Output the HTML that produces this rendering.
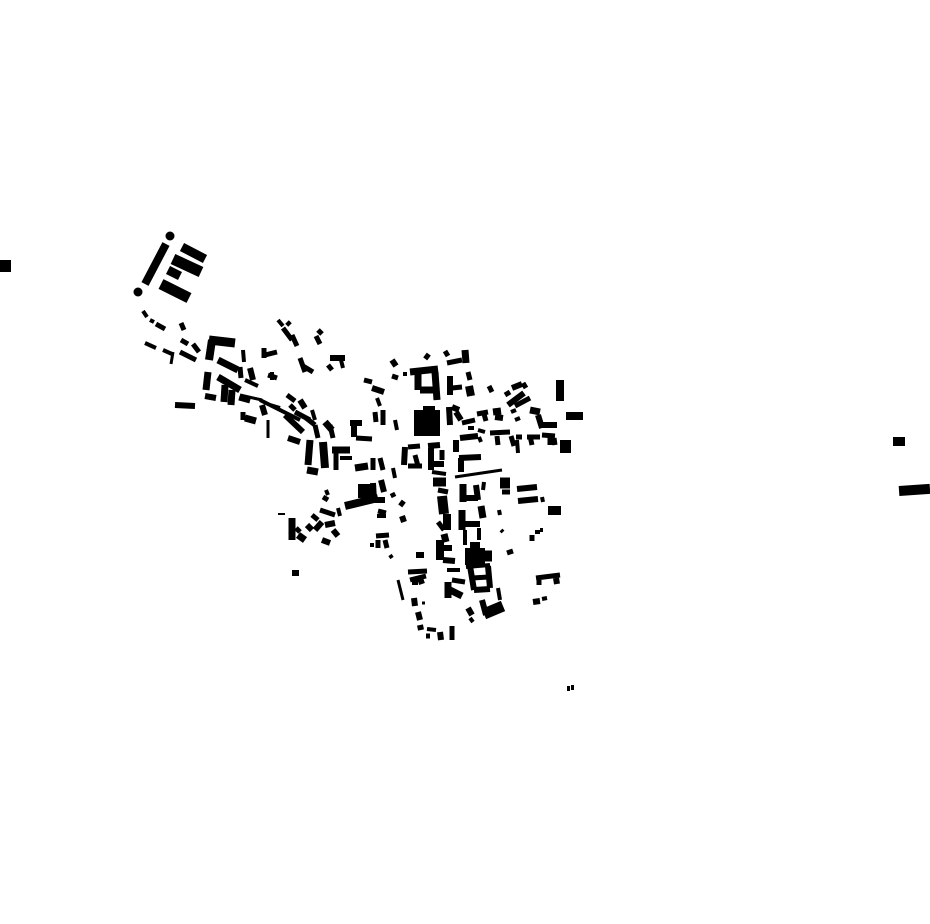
<!DOCTYPE html>
<html><head><meta charset="utf-8"><style>html,body{margin:0;padding:0;background:#fff}svg{display:block}g rect{fill:#000;stroke:none}</style></head>
<body>
<svg width="930" height="924" viewBox="0 0 930 924" xmlns="http://www.w3.org/2000/svg">
<rect width="930" height="924" fill="#fff"/>
<g fill="#000" stroke="none">
<rect x="0" y="260" width="11" height="12"/>
<rect x="893" y="437" width="12" height="9"/>
<rect x="899" y="485" width="31" height="10" transform="rotate(-4 914 490)"/>
<rect x="567" y="686" width="3" height="5"/><rect x="571" y="685" width="3" height="5"/>
<circle cx="170" cy="236" r="4.5"/><circle cx="138" cy="292" r="4.5"/>
<rect x="414" y="410" width="26" height="26"/>
<rect x="423" y="406" width="12" height="6"/>
<rect x="556" y="380" width="8" height="21"/>
<rect x="566" y="412" width="17" height="8"/>
<rect x="560" y="440" width="11" height="13"/>
<rect x="548" y="506" width="13" height="9"/>
<rect x="465" y="548" width="20" height="17"/>
<rect x="358" y="484" width="13" height="14"/>
</g>
<g stroke="#000" fill="none" stroke-linecap="butt">
<line x1="166" y1="244" x2="145" y2="284" stroke-width="8"/>
<line x1="182" y1="247" x2="205" y2="259" stroke-width="9"/>
<line x1="173" y1="259" x2="201" y2="272" stroke-width="11"/>
<line x1="168" y1="270" x2="180" y2="276" stroke-width="9"/>
<line x1="161" y1="284" x2="189" y2="298" stroke-width="11"/>
<line x1="143" y1="311" x2="147" y2="317" stroke-width="4"/>
<line x1="150" y1="320" x2="154" y2="322" stroke-width="4"/>
<line x1="156" y1="324" x2="165" y2="329" stroke-width="5"/>
<line x1="181" y1="323" x2="184" y2="330" stroke-width="5"/>
<line x1="145" y1="343" x2="156" y2="348" stroke-width="4"/>
<line x1="163" y1="350" x2="172" y2="354" stroke-width="4"/>
<line x1="173" y1="352" x2="171" y2="364" stroke-width="3"/>
<line x1="180" y1="352" x2="196" y2="360" stroke-width="5"/>
<line x1="181" y1="340" x2="188" y2="344" stroke-width="5"/>
<line x1="193" y1="344" x2="199" y2="352" stroke-width="5"/>
<line x1="175" y1="405" x2="195" y2="406" stroke-width="6"/>
<line x1="209" y1="340" x2="235" y2="343" stroke-width="9"/>
<line x1="212" y1="340" x2="209" y2="360" stroke-width="8"/>
<line x1="218" y1="360" x2="238" y2="370" stroke-width="7"/>
<line x1="243" y1="350" x2="244" y2="362" stroke-width="4"/>
<line x1="240" y1="367" x2="241" y2="378" stroke-width="5"/>
<line x1="250" y1="368" x2="253" y2="380" stroke-width="6"/>
<line x1="208" y1="372" x2="206" y2="390" stroke-width="7"/>
<line x1="205" y1="396" x2="216" y2="398" stroke-width="6"/>
<line x1="218" y1="377" x2="240" y2="390" stroke-width="7"/>
<line x1="225" y1="385" x2="224" y2="402" stroke-width="7"/>
<line x1="232" y1="390" x2="231" y2="405" stroke-width="7"/>
<line x1="239" y1="398" x2="250" y2="401" stroke-width="5"/>
<line x1="240" y1="395" x2="262" y2="400" stroke-width="3"/>
<line x1="245" y1="380" x2="258" y2="386" stroke-width="4"/>
<line x1="260" y1="400" x2="300" y2="420" stroke-width="4"/>
<line x1="262" y1="405" x2="265" y2="415" stroke-width="6"/>
<line x1="243" y1="412" x2="243" y2="420" stroke-width="5"/>
<line x1="245" y1="418" x2="256" y2="421" stroke-width="7"/>
<line x1="268" y1="420" x2="268" y2="438" stroke-width="3"/>
<line x1="270" y1="405" x2="280" y2="408" stroke-width="4"/>
<line x1="287" y1="395" x2="295" y2="401" stroke-width="5"/>
<line x1="290" y1="405" x2="295" y2="410" stroke-width="5"/>
<line x1="300" y1="400" x2="305" y2="408" stroke-width="6"/>
<line x1="295" y1="412" x2="310" y2="420" stroke-width="5"/>
<line x1="285" y1="415" x2="303" y2="432" stroke-width="6"/>
<line x1="288" y1="438" x2="300" y2="442" stroke-width="6"/>
<line x1="306" y1="418" x2="315" y2="425" stroke-width="5"/>
<line x1="312" y1="410" x2="315" y2="420" stroke-width="4"/>
<line x1="315" y1="425" x2="318" y2="438" stroke-width="5"/>
<line x1="325" y1="422" x2="332" y2="430" stroke-width="7"/>
<line x1="330" y1="425" x2="333" y2="438" stroke-width="5"/>
<line x1="310" y1="440" x2="308" y2="465" stroke-width="7"/>
<line x1="323" y1="442" x2="325" y2="468" stroke-width="8"/>
<line x1="307" y1="470" x2="318" y2="472" stroke-width="7"/>
<line x1="332" y1="450" x2="350" y2="450" stroke-width="7"/>
<line x1="336" y1="450" x2="336" y2="470" stroke-width="5"/>
<line x1="340" y1="458" x2="352" y2="458" stroke-width="4"/>
<line x1="278" y1="320" x2="283" y2="326" stroke-width="4"/>
<line x1="283" y1="328" x2="292" y2="340" stroke-width="5"/>
<line x1="287" y1="322" x2="290" y2="325" stroke-width="5"/>
<line x1="292" y1="335" x2="297" y2="346" stroke-width="5"/>
<line x1="318" y1="330" x2="322" y2="334" stroke-width="5"/>
<line x1="316" y1="336" x2="320" y2="344" stroke-width="5"/>
<line x1="264" y1="348" x2="264" y2="358" stroke-width="5"/>
<line x1="265" y1="355" x2="277" y2="352" stroke-width="5"/>
<line x1="268" y1="375" x2="277" y2="378" stroke-width="5"/>
<line x1="272" y1="372" x2="272" y2="380" stroke-width="4"/>
<line x1="300" y1="358" x2="305" y2="372" stroke-width="5"/>
<line x1="303" y1="366" x2="313" y2="372" stroke-width="5"/>
<line x1="330" y1="358" x2="345" y2="358" stroke-width="6"/>
<line x1="340" y1="356" x2="343" y2="368" stroke-width="4"/>
<line x1="328" y1="365" x2="332" y2="370" stroke-width="5"/>
<line x1="350" y1="423" x2="362" y2="423" stroke-width="6"/>
<line x1="354" y1="425" x2="354" y2="437" stroke-width="6"/>
<line x1="356" y1="438" x2="372" y2="439" stroke-width="5"/>
<line x1="364" y1="380" x2="372" y2="382" stroke-width="5"/>
<line x1="372" y1="388" x2="384" y2="392" stroke-width="6"/>
<line x1="377" y1="398" x2="380" y2="406" stroke-width="4"/>
<line x1="375" y1="412" x2="376" y2="422" stroke-width="5"/>
<line x1="383" y1="410" x2="383" y2="425" stroke-width="5"/>
<line x1="395" y1="420" x2="397" y2="430" stroke-width="4"/>
<line x1="392" y1="360" x2="396" y2="366" stroke-width="6"/>
<line x1="392" y1="376" x2="398" y2="378" stroke-width="5"/>
<line x1="405" y1="372" x2="405" y2="376" stroke-width="4"/>
<line x1="355" y1="468" x2="368" y2="466" stroke-width="7"/>
<line x1="373" y1="458" x2="373" y2="470" stroke-width="5"/>
<line x1="380" y1="458" x2="383" y2="470" stroke-width="5"/>
<line x1="393" y1="468" x2="395" y2="478" stroke-width="4"/>
<line x1="405" y1="447" x2="404" y2="465" stroke-width="6"/>
<line x1="408" y1="447" x2="420" y2="446" stroke-width="5"/>
<line x1="408" y1="466" x2="422" y2="466" stroke-width="5"/>
<line x1="415" y1="455" x2="418" y2="466" stroke-width="5"/>
<line x1="428" y1="446" x2="440" y2="445" stroke-width="6"/>
<line x1="431" y1="448" x2="431" y2="470" stroke-width="6"/>
<line x1="432" y1="464" x2="444" y2="464" stroke-width="6"/>
<line x1="432" y1="472" x2="446" y2="474" stroke-width="4"/>
<line x1="442" y1="450" x2="442" y2="460" stroke-width="5"/>
<line x1="410" y1="372" x2="438" y2="369" stroke-width="7"/>
<line x1="418" y1="372" x2="418" y2="390" stroke-width="7"/>
<line x1="435" y1="372" x2="437" y2="400" stroke-width="7"/>
<line x1="420" y1="390" x2="437" y2="390" stroke-width="7"/>
<line x1="425" y1="355" x2="429" y2="358" stroke-width="6"/>
<line x1="445" y1="351" x2="448" y2="356" stroke-width="5"/>
<line x1="447" y1="363" x2="462" y2="360" stroke-width="5"/>
<line x1="465" y1="350" x2="466" y2="363" stroke-width="7"/>
<line x1="450" y1="376" x2="450" y2="395" stroke-width="6"/>
<line x1="452" y1="388" x2="462" y2="387" stroke-width="5"/>
<line x1="468" y1="372" x2="470" y2="380" stroke-width="5"/>
<line x1="469" y1="386" x2="471" y2="396" stroke-width="8"/>
<line x1="489" y1="386" x2="492" y2="392" stroke-width="5"/>
<line x1="449" y1="407" x2="450" y2="425" stroke-width="6"/>
<line x1="452" y1="407" x2="459" y2="410" stroke-width="6"/>
<line x1="456" y1="412" x2="461" y2="420" stroke-width="6"/>
<line x1="462" y1="423" x2="475" y2="420" stroke-width="5"/>
<line x1="477" y1="414" x2="488" y2="412" stroke-width="5"/>
<line x1="484" y1="414" x2="486" y2="421" stroke-width="5"/>
<line x1="493" y1="412" x2="501" y2="411" stroke-width="7"/>
<line x1="495" y1="417" x2="503" y2="418" stroke-width="6"/>
<line x1="505" y1="395" x2="510" y2="392" stroke-width="5"/>
<line x1="512" y1="388" x2="522" y2="384" stroke-width="6"/>
<line x1="508" y1="405" x2="524" y2="393" stroke-width="6"/>
<line x1="515" y1="406" x2="530" y2="398" stroke-width="5"/>
<line x1="511" y1="412" x2="516" y2="410" stroke-width="4"/>
<line x1="515" y1="420" x2="520" y2="418" stroke-width="4"/>
<line x1="530" y1="410" x2="540" y2="412" stroke-width="7"/>
<line x1="538" y1="415" x2="542" y2="428" stroke-width="6"/>
<line x1="542" y1="425" x2="557" y2="425" stroke-width="6"/>
<line x1="523" y1="383" x2="526" y2="388" stroke-width="5"/>
<line x1="490" y1="433" x2="510" y2="432" stroke-width="5"/>
<line x1="497" y1="436" x2="498" y2="445" stroke-width="5"/>
<line x1="511" y1="436" x2="514" y2="446" stroke-width="5"/>
<line x1="516" y1="437" x2="522" y2="437" stroke-width="5"/>
<line x1="517" y1="440" x2="518" y2="453" stroke-width="4"/>
<line x1="527" y1="437" x2="540" y2="437" stroke-width="5"/>
<line x1="530" y1="436" x2="532" y2="445" stroke-width="5"/>
<line x1="542" y1="435" x2="555" y2="436" stroke-width="5"/>
<line x1="550" y1="437" x2="550" y2="445" stroke-width="5"/>
<line x1="554" y1="438" x2="555" y2="445" stroke-width="5"/>
<line x1="478" y1="430" x2="485" y2="432" stroke-width="4"/>
<line x1="468" y1="428" x2="474" y2="428" stroke-width="4"/>
<line x1="479" y1="437" x2="481" y2="442" stroke-width="4"/>
<line x1="456" y1="440" x2="456" y2="452" stroke-width="6"/>
<line x1="460" y1="438" x2="478" y2="436" stroke-width="6"/>
<line x1="459" y1="458" x2="481" y2="457" stroke-width="6"/>
<line x1="461" y1="458" x2="461" y2="472" stroke-width="6"/>
<line x1="455" y1="477" x2="502" y2="470" stroke-width="3"/>
<line x1="433" y1="482" x2="446" y2="482" stroke-width="9"/>
<line x1="438" y1="490" x2="448" y2="492" stroke-width="5"/>
<line x1="442" y1="496" x2="444" y2="514" stroke-width="10"/>
<line x1="447" y1="514" x2="447" y2="530" stroke-width="8"/>
<line x1="438" y1="522" x2="444" y2="530" stroke-width="5"/>
<line x1="444" y1="534" x2="446" y2="542" stroke-width="7"/>
<line x1="463" y1="484" x2="463" y2="502" stroke-width="7"/>
<line x1="465" y1="498" x2="478" y2="498" stroke-width="6"/>
<line x1="476" y1="485" x2="478" y2="500" stroke-width="6"/>
<line x1="484" y1="482" x2="483" y2="490" stroke-width="4"/>
<line x1="481" y1="506" x2="483" y2="518" stroke-width="7"/>
<line x1="462" y1="510" x2="462" y2="530" stroke-width="7"/>
<line x1="463" y1="524" x2="480" y2="524" stroke-width="6"/>
<line x1="479" y1="528" x2="479" y2="540" stroke-width="4"/>
<line x1="465" y1="530" x2="465" y2="545" stroke-width="4"/>
<line x1="500" y1="483" x2="510" y2="483" stroke-width="11"/>
<line x1="502" y1="492" x2="510" y2="492" stroke-width="5"/>
<line x1="517" y1="489" x2="537" y2="487" stroke-width="6"/>
<line x1="518" y1="501" x2="538" y2="499" stroke-width="6"/>
<line x1="542" y1="497" x2="543" y2="502" stroke-width="4"/>
<line x1="540" y1="530" x2="543" y2="530" stroke-width="4"/>
<line x1="535" y1="532" x2="540" y2="532" stroke-width="4"/>
<line x1="532" y1="535" x2="532" y2="541" stroke-width="5"/>
<line x1="501" y1="530" x2="503" y2="532" stroke-width="4"/>
<line x1="499" y1="510" x2="500" y2="515" stroke-width="4"/>
<line x1="507" y1="553" x2="513" y2="551" stroke-width="5"/>
<line x1="440" y1="540" x2="440" y2="560" stroke-width="8"/>
<line x1="442" y1="548" x2="452" y2="548" stroke-width="6"/>
<line x1="443" y1="560" x2="455" y2="561" stroke-width="6"/>
<line x1="447" y1="570" x2="460" y2="570" stroke-width="4"/>
<line x1="470" y1="545" x2="480" y2="545" stroke-width="6"/>
<line x1="485" y1="556" x2="492" y2="556" stroke-width="11"/>
<line x1="466" y1="567" x2="490" y2="565" stroke-width="4"/>
<line x1="470" y1="566" x2="474" y2="590" stroke-width="6"/>
<line x1="488" y1="566" x2="490" y2="588" stroke-width="6"/>
<line x1="472" y1="578" x2="489" y2="577" stroke-width="5"/>
<line x1="474" y1="590" x2="490" y2="589" stroke-width="6"/>
<line x1="498" y1="588" x2="500" y2="600" stroke-width="4"/>
<line x1="484" y1="614" x2="503" y2="606" stroke-width="11"/>
<line x1="482" y1="600" x2="486" y2="615" stroke-width="6"/>
<line x1="448" y1="582" x2="448" y2="598" stroke-width="7"/>
<line x1="450" y1="590" x2="462" y2="596" stroke-width="7"/>
<line x1="452" y1="580" x2="465" y2="582" stroke-width="5"/>
<line x1="468" y1="608" x2="472" y2="615" stroke-width="6"/>
<line x1="470" y1="618" x2="473" y2="622" stroke-width="4"/>
<line x1="416" y1="555" x2="424" y2="555" stroke-width="6"/>
<line x1="408" y1="572" x2="427" y2="571" stroke-width="5"/>
<line x1="410" y1="580" x2="426" y2="576" stroke-width="5"/>
<line x1="415" y1="578" x2="415" y2="585" stroke-width="6"/>
<line x1="420" y1="578" x2="422" y2="584" stroke-width="6"/>
<line x1="398" y1="580" x2="403" y2="600" stroke-width="3"/>
<line x1="414" y1="598" x2="415" y2="606" stroke-width="6"/>
<line x1="422" y1="603" x2="425" y2="603" stroke-width="3"/>
<line x1="418" y1="612" x2="420" y2="620" stroke-width="6"/>
<line x1="420" y1="625" x2="421" y2="630" stroke-width="6"/>
<line x1="427" y1="629" x2="436" y2="630" stroke-width="4"/>
<line x1="426" y1="636" x2="430" y2="636" stroke-width="5"/>
<line x1="440" y1="632" x2="441" y2="640" stroke-width="6"/>
<line x1="452" y1="626" x2="452" y2="640" stroke-width="5"/>
<line x1="536" y1="578" x2="560" y2="575" stroke-width="5"/>
<line x1="539" y1="580" x2="539" y2="585" stroke-width="5"/>
<line x1="556" y1="578" x2="557" y2="584" stroke-width="6"/>
<line x1="533" y1="602" x2="540" y2="601" stroke-width="6"/>
<line x1="542" y1="599" x2="547" y2="598" stroke-width="4"/>
<line x1="278" y1="514" x2="285" y2="514" stroke-width="2"/>
<line x1="292" y1="518" x2="292" y2="540" stroke-width="7"/>
<line x1="296" y1="528" x2="300" y2="532" stroke-width="5"/>
<line x1="298" y1="535" x2="305" y2="540" stroke-width="7"/>
<line x1="307" y1="525" x2="312" y2="530" stroke-width="6"/>
<line x1="312" y1="515" x2="318" y2="520" stroke-width="5"/>
<line x1="315" y1="530" x2="322" y2="522" stroke-width="6"/>
<line x1="320" y1="510" x2="335" y2="515" stroke-width="5"/>
<line x1="325" y1="525" x2="335" y2="523" stroke-width="6"/>
<line x1="322" y1="540" x2="330" y2="543" stroke-width="6"/>
<line x1="333" y1="530" x2="338" y2="536" stroke-width="6"/>
<line x1="323" y1="497" x2="328" y2="500" stroke-width="5"/>
<line x1="326" y1="490" x2="328" y2="495" stroke-width="4"/>
<line x1="338" y1="508" x2="340" y2="516" stroke-width="4"/>
<line x1="345" y1="506" x2="378" y2="498" stroke-width="8"/>
<line x1="373" y1="483" x2="374" y2="500" stroke-width="6"/>
<line x1="375" y1="500" x2="385" y2="500" stroke-width="6"/>
<line x1="381" y1="480" x2="384" y2="492" stroke-width="6"/>
<line x1="378" y1="511" x2="386" y2="513" stroke-width="5"/>
<line x1="377" y1="516" x2="386" y2="516" stroke-width="4"/>
<line x1="392" y1="493" x2="394" y2="497" stroke-width="5"/>
<line x1="400" y1="502" x2="404" y2="505" stroke-width="6"/>
<line x1="402" y1="516" x2="404" y2="522" stroke-width="6"/>
<line x1="292" y1="573" x2="299" y2="573" stroke-width="6"/>
<line x1="370" y1="545" x2="374" y2="545" stroke-width="4"/>
<line x1="376" y1="536" x2="389" y2="535" stroke-width="5"/>
<line x1="378" y1="540" x2="378" y2="548" stroke-width="5"/>
<line x1="385" y1="540" x2="387" y2="548" stroke-width="5"/>
<line x1="390" y1="555" x2="392" y2="558" stroke-width="4"/>
</g>
</svg>
</body></html>
